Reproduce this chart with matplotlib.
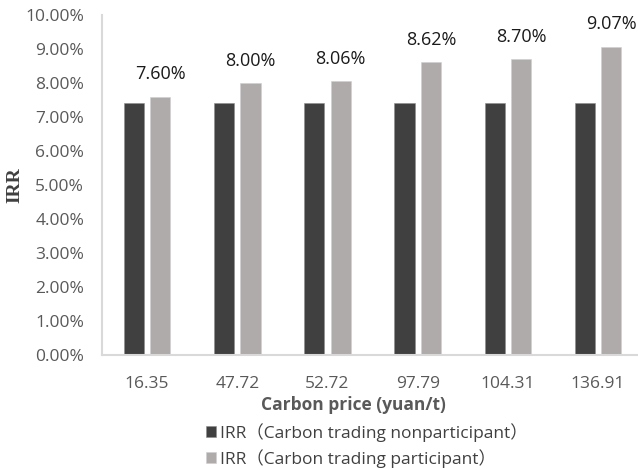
import matplotlib
matplotlib.use("Agg")
import matplotlib.pyplot as plt
from matplotlib.ticker import FuncFormatter
import numpy as np

plt.rcParams['font.family'] = ['Open Sans', 'Noto Sans CJK SC', 'DejaVu Sans']

# carbon price scenarios and project IRR (%)
prices = ["16.35", "47.72", "52.72", "97.79", "104.31", "136.91"]
irr_nonpart = [7.41, 7.41, 7.41, 7.41, 7.41, 7.41]
irr_part = [7.60, 8.00, 8.06, 8.62, 8.70, 9.07]

dark = "#404040"
light = "#AFABAB"

fig = plt.figure(figsize=(6.38, 4.70), dpi=100)
ax = fig.add_axes([0.16, 0.245, 0.848, 0.723])

x = np.arange(len(prices))
w = 0.225
off = 0.146
ax.bar(x - off, irr_nonpart, w, color=dark, edgecolor="#8c8c8c", linewidth=0.4,
       label="IRR（Carbon trading nonparticipant）")
ax.bar(x + off, irr_part, w, color=light, edgecolor="#d0cece", linewidth=0.4,
       label="IRR（Carbon trading participant）")

for xi, v in zip(x, irr_part):
    ax.annotate(f"{v:.2f}%", (xi + off, v), xytext=(0, 16), textcoords="offset points",
                ha="center", va="center", fontsize=13, color="#1a1a1a")

ax.set_xlim(-0.5, 5.5)
ax.set_ylim(0, 10)
ax.set_yticks(np.arange(0, 10.01, 1))
ax.yaxis.set_major_formatter(FuncFormatter(lambda v, p: f"{v:.2f}%"))
ax.set_xticks(x)
ax.set_xticklabels(prices)
ax.tick_params(axis="both", length=0, labelsize=12.5, colors="#595959")
ax.tick_params(axis="y", pad=13)
ax.tick_params(axis="x", pad=15)

for s in ["top", "right"]:
    ax.spines[s].set_visible(False)
for s in ["left", "bottom"]:
    ax.spines[s].set_color("#d9d9d9")
    ax.spines[s].set_linewidth(1.5)

fig.text(353 / 638, 1 - 405 / 470, "Carbon price (yuan/t)", ha="center", va="center",
         fontsize=12.5, fontweight="bold", color="#595959")
fig.text(15 / 638, 1 - 185 / 470, "IRR", rotation=90, ha="center", va="center",
         fontsize=14, fontweight="bold", color="#404040", family="Liberation Serif")

leg = fig.legend(loc="upper left", bbox_to_anchor=(197 / 638, 1 - 414 / 470), frameon=False,
                 fontsize=12.5, handlelength=0.6, handleheight=0.6, handletextpad=0.25,
                 labelspacing=0.42, borderpad=0)
for t in leg.get_texts():
    t.set_color("#404040")

fig.savefig("out.png", dpi=100)
